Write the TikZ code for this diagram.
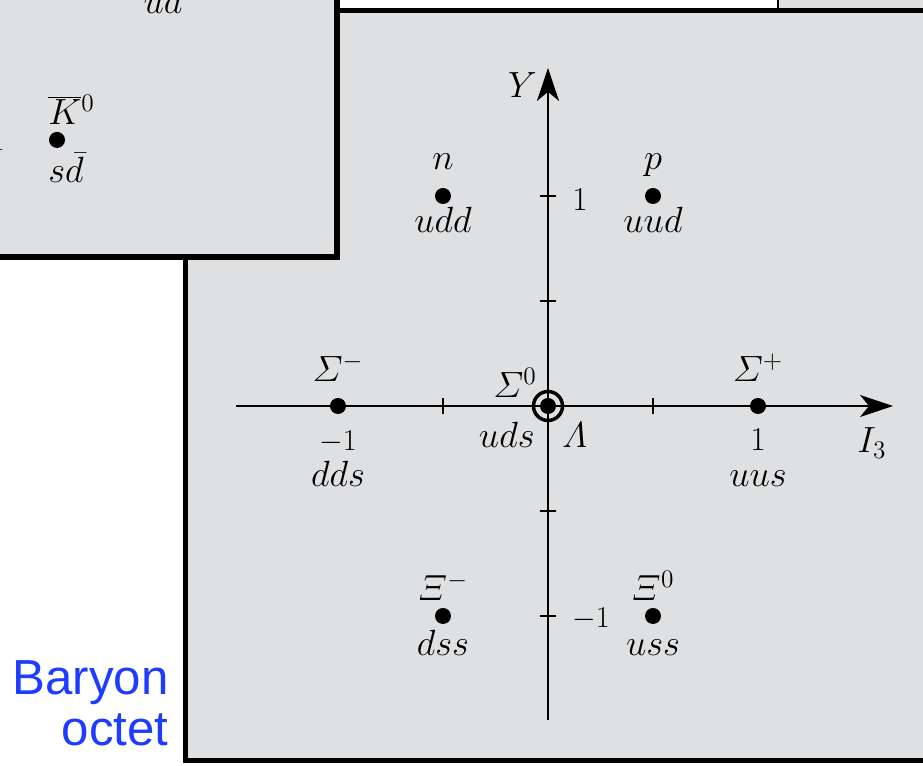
\documentclass[tikz,border=0pt]{standalone}
\usepackage{fontspec}
\newfontfamily\octetfont{Liberation Sans}
\usetikzlibrary{arrows.meta,positioning}

\definecolor{panelgray}{RGB}{223,224,226}
\definecolor{octetblue}{RGB}{30,60,255}

\begin{document}
\begin{tikzpicture}[x=4.2cm, y=4.2cm, font=\fontsize{21.5}{26}\selectfont,
  panel/.style={fill=panelgray, draw=black, line width=0.1cm},
  axis/.style={line width=0.05cm},
  arr/.style={-{Stealth[length=0.66cm, width=0.44cm, inset=0.18cm]}},
  hadron/.style={circle, fill=black, inner sep=0pt, minimum size=0.32cm},
  lbl/.style={inner sep=0pt},
  num/.style={inner sep=0pt, font=\fontsize{19}{22}\selectfont}]
  % frame of the whole figure
  \useasboundingbox (-2.6095,-1.7143) rectangle (1.7857,1.9333);
  \clip (-2.6095,-1.7143) rectangle (1.7857,1.9333);
  \fill[white] (-2.7,-1.8) rectangle (1.9,2.1);
  % neighbouring panels and the octet panel
  \draw[fill=panelgray, line width=0.04cm] (1.095,1.881) rectangle (2.1,2.1);
  \draw[panel] (-1.724,-1.690) rectangle (2.1,1.881);
  \draw[panel, line width=0.13cm] (-2.8,0.7095) rectangle (-1.005,2.1);
  % what is left of the meson octet
  \node[hadron] (kbar) at (-2.338,1.267) {};
  \node[lbl, anchor=base west, xshift=-0.18cm, yshift=0.30cm] (kbarname) at (kbar.center) {$\overline{K}{}^0$};
  \node[lbl, anchor=base west, xshift=-0.18cm, yshift=-0.86cm] (kbarq) at (kbar.center) {$s\bar d$};
  \node[lbl, anchor=base] (piq) at (-1.833,1.867) {$u\bar d$};
  \node[num, anchor=east] (mesontick) at (-2.586,1.257) {$-1$};
  % axes
  \coordinate (ybot) at (0,-1.495);
  \coordinate (ytip) at (0,1.61);
  \coordinate (ileft) at (-1.486,0);
  \coordinate (itip) at (1.643,0);
  \draw[axis, arr] (ybot) -- (ytip);
  \draw[axis, arr] (ileft) -- (itip);
  \foreach \t in {-1,-0.5,0.5,1} {
    \draw[axis] (\t,0) ++(0,-0.16cm) -- ++(0,0.32cm);
    \draw[axis] (0,\t) ++(-0.16cm,0) -- ++(0.32cm,0);
  }
  \node[lbl, anchor=base west, xshift=-0.72cm, yshift=-0.94cm] (ilabel) at (itip) {$I_3$};
  \node[lbl, anchor=base east, xshift=-0.22cm, yshift=-0.60cm] (ylabel) at (ytip) {$Y$};
  \node[num, anchor=west, xshift=0.48cm, yshift=-0.06cm] (yone) at (0,1) {1};
  \node[num, anchor=west, xshift=0.48cm, yshift=-0.06cm] (ymone) at (0,-1) {$-1$};
  % the baryons
  \node[hadron] (n) at (-0.5,1) {};
  \node[hadron] (p) at (0.5,1) {};
  \node[hadron] (sigm) at (-1,0) {};
  \node[hadron] (sigp) at (1,0) {};
  \node[hadron] (sigz) at (0,0) {};
  \draw[line width=0.07cm] (sigz.center) circle (0.29cm);
  \node[hadron] (xim) at (-0.5,-1) {};
  \node[hadron] (xiz) at (0.5,-1) {};
  \node[lbl, above=0.53cm of n.center, anchor=base] (nname) {$n$};
  \node[lbl, below=0.74cm of n.center, anchor=base] (nq) {$udd$};
  \node[lbl, above=0.53cm of p.center, anchor=base] (pname) {$p$};
  \node[lbl, below=0.74cm of p.center, anchor=base] (pq) {$uud$};
  \node[lbl, above=0.48cm of sigm.center, anchor=base] (sigmname) {$\mathnormal{\Sigma}^-$};
  \node[num, below=0.90cm of sigm.center, anchor=base] (sigmtick) {$-1$};
  \node[lbl, below=1.62cm of sigm.center, anchor=base] (sigmq) {$dds$};
  \node[lbl, above=0.48cm of sigp.center, anchor=base] (sigpname) {$\mathnormal{\Sigma}^+$};
  \node[num, below=0.90cm of sigp.center, anchor=base] (sigptick) {1};
  \node[lbl, below=1.62cm of sigp.center, anchor=base] (sigpq) {$uus$};
  \node[lbl, anchor=base east, xshift=-0.22cm, yshift=0.16cm] (sigzname) at (sigz.center) {$\mathnormal{\Sigma}^0$};
  \node[lbl, anchor=base east, xshift=-0.26cm, yshift=-0.84cm] (sigzq) at (sigz.center) {$uds$};
  \node[lbl, anchor=base west, xshift=0.28cm, yshift=-0.84cm] (lamname) at (sigz.center) {$\mathnormal{\Lambda}$};
  \node[lbl, above=0.31cm of xim.center, anchor=base] (ximname) {$\mathnormal{\Xi}^-$};
  \node[lbl, below=0.79cm of xim.center, anchor=base] (ximq) {$dss$};
  \node[lbl, above=0.31cm of xiz.center, anchor=base] (xizname) {$\mathnormal{\Xi}^0$};
  \node[lbl, below=0.79cm of xiz.center, anchor=base] (xizq) {$uss$};
  % caption
  \node[inner sep=0pt, anchor=north east, align=right, text=octetblue,
    font=\octetfont\fontsize{28}{29}\selectfont] (title) at (-1.805,-1.2095) {Baryon\\octet};
\end{tikzpicture}
\end{document}
